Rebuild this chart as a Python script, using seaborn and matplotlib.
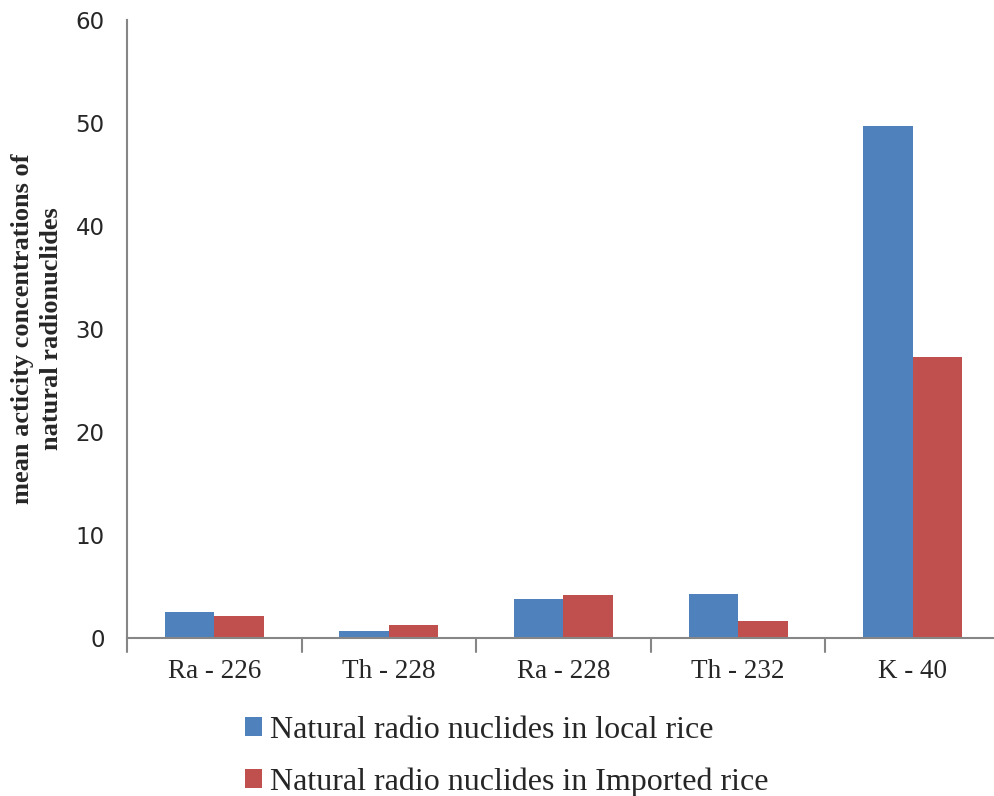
import matplotlib
matplotlib.use("Agg")
import matplotlib.pyplot as plt
from matplotlib.patches import Patch
import seaborn as sns
import pandas as pd

categories = ["Ra - 226", "Th - 228", "Ra - 228", "Th - 232", "K - 40"]
local_rice = [2.5, 0.68, 3.8, 4.25, 49.7]
imported_rice = [2.14, 1.27, 4.17, 1.65, 27.3]
series_names = ["Natural radio nuclides in local rice",
                "Natural radio nuclides in Imported rice"]
colors = ["#4F81BD", "#C0504D"]
y_ticks = [0, 10, 20, 30, 40, 50, 60]

df = pd.DataFrame({
    "nuclide": categories * 2,
    "value": local_rice + imported_rice,
    "series": [series_names[0]] * len(categories) + [series_names[1]] * len(categories),
})

sns.set_style("white")
fig = plt.figure(figsize=(9.95, 7.96), dpi=100)
ax = fig.add_axes([127 / 995, 1 - 638 / 796, (1000 - 127) / 995, (638 - 20) / 796])

sns.barplot(data=df, x="nuclide", y="value", hue="series", order=categories,
            hue_order=series_names, palette=colors, width=0.567, gap=0,
            saturation=1, ax=ax, legend=False, edgecolor="none", linewidth=0)

ax.set_xlim(-0.5, len(categories) - 0.5)
ax.set_ylim(0, 60)
ax.set_yticks(y_ticks)
ax.set_yticklabels([str(t) for t in y_ticks], fontfamily="DejaVu Sans", fontsize=16.5)
ax.tick_params(axis="y", direction="out", length=9, width=1.2, color="#868686", pad=7)

# x ticks sit on the boundaries between categories; labels stay centred
ax.set_xticks(range(len(categories)))
ax.set_xticklabels(categories, fontfamily="Liberation Serif", fontsize=19.5)
ax.tick_params(axis="x", length=0, pad=15)
for b in [i + 0.5 for i in range(len(categories) - 1)] + [-0.5]:
    ax.plot([b, b], [0, -0.022], transform=ax.get_xaxis_transform(),
            color="#868686", lw=1.5, clip_on=False)

for side in ["top", "right"]:
    ax.spines[side].set_visible(False)
for side in ["left", "bottom"]:
    ax.spines[side].set_color("#868686")
    ax.spines[side].set_linewidth(1.5)

ax.set_xlabel("")
ax.set_ylabel("mean acticity concentrations of\nnatural radionuclides",
              fontfamily="Liberation Serif", fontweight="bold", fontsize=19,
              linespacing=1.35, labelpad=9)

handles = [Patch(facecolor=c, edgecolor="none") for c in colors]
fig.legend(handles, series_names, loc="upper left",
           bbox_to_anchor=(216 / 995, 1 - 687 / 796), frameon=False,
           prop={"family": "Liberation Serif", "size": 23},
           handlelength=0.55, handleheight=0.55, handletextpad=0.25,
           labelspacing=0.7)

fig.savefig("out.png", dpi=100)
